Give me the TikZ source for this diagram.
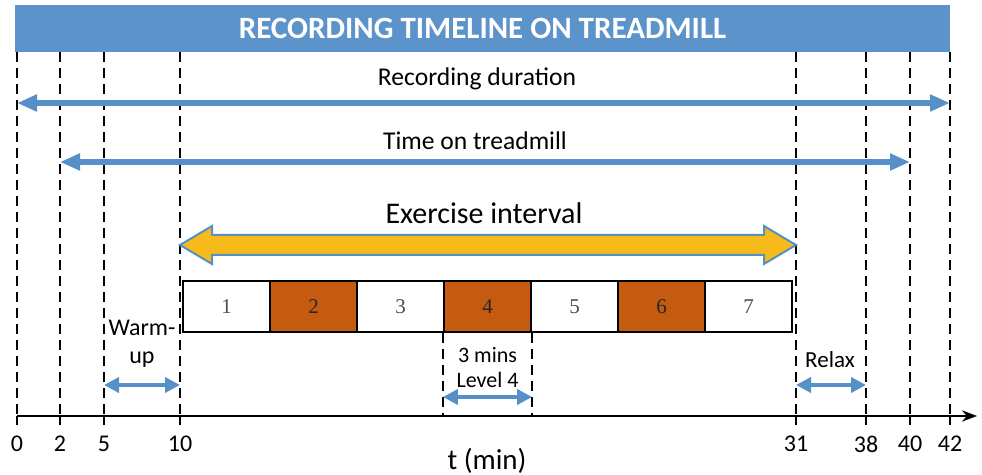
\documentclass[tikz,border=0pt]{standalone}
\usepackage{fontspec}
\setmainfont{Carlito}
\newfontfamily\cellfont{Liberation Serif}
\usetikzlibrary{arrows.meta,positioning,calc}

\definecolor{titleblue}{RGB}{91,147,202}
\definecolor{arrowblue}{RGB}{86,144,201}
\definecolor{exyellow}{RGB}{246,187,26}
\definecolor{cellorange}{RGB}{197,90,17}

\begin{document}
\begin{tikzpicture}[
    x=0.5pt, y=-0.5pt,
    node font=\fontsize{12}{14}\selectfont,
    >=Stealth,
    time line/.style={line width=1pt, dash pattern=on 5pt off 3pt},
    blue arrow/.style={draw=arrowblue, line width=2.8pt,
        {Triangle[length=10pt,width=8pt]}-{Triangle[length=10pt,width=8pt]}},
    small arrow/.style={draw=arrowblue, line width=2.4pt,
        {Triangle[length=7.5pt,width=7.5pt]}-{Triangle[length=7.5pt,width=7.5pt]}},
    ex arrow/.style={draw=arrowblue, fill=exyellow, line width=1pt, line join=miter},
    cell/.style={draw, line width=1.1pt, minimum width=43.5pt, minimum height=25.5pt,
        inner sep=0pt, font=\cellfont\fontsize{10.5}{12}\selectfont},
]
\useasboundingbox (0,0) rectangle (982,475);

% === TITLE ===
\node[fill=titleblue, minimum width=467.5pt, minimum height=23.5pt, inner sep=0pt,
      text=white, font=\bfseries\fontsize{15.5}{17}\selectfont]
    (title) at (482.5,28.5) {RECORDING TIMELINE ON TREADMILL};

% === TIME AXIS ===
\coordinate (tend) at (977,416);
\foreach \t/\x in {0/17, 2/60, 5/104, 10/180, 31/796, 38/866, 40/910, 42/950} {
    \coordinate (t\t) at (\x,416);
    \draw[time line] (t\t |- title.south) -- (t\t);
    \draw[line width=1pt] (t\t) -- ++(0,9);
    \node (l\t) at (\x,444) {\t};
}
\draw[->, line width=1pt] (t0) -- (tend);
\node[font=\fontsize{14.5}{16}\selectfont] (tlabel) at (487,461) {t (min)};

% Rows of the arrows
\coordinate (rowrec) at (0,103);
\coordinate (rowtread) at (0,162);
\coordinate (rowex) at (0,245);

% === RECORDING / TREADMILL ===
\node[font=\fontsize{12.8}{15}\selectfont] (rec) at (477,79) {Recording duration};
\draw[blue arrow] (t0 |- rowrec) -- (t42 |- rowrec);

\node[font=\fontsize{12.8}{15}\selectfont] (tread) at (475,141) {Time on treadmill};
\draw[blue arrow] (t2 |- rowtread) -- (t40 |- rowtread);

% === EXERCISE INTERVAL ===
\node[font=\fontsize{15}{17}\selectfont] (ex) at (484,213) {Exercise interval};
\draw[ex arrow] (t10 |- rowex) -- ++(32,-19) -- ++(0,9)
    -- ($(t31 |- rowex)+(-32,-10)$) -- ++(0,-9) -- (t31 |- rowex)
    -- ++(-32,19) -- ++(0,-9)
    -- ($(t10 |- rowex)+(32,10)$) -- ++(0,9) -- cycle;

% Stages
\foreach \i in {1,...,7} {
    \ifodd\i
        \node[cell, fill=white, text=black!70] (c\i) at ({183+87*(\i-0.5)},306.5) {\i};
    \else
        \node[cell, fill=cellorange, text=black!85] (c\i) at ({183+87*(\i-0.5)},306.5) {\i};
    \fi
}

% === 3 MINS LEVEL 4 ===
\draw[time line] (c4.south west) -- (c4.south west |- t0);
\draw[time line] (c4.south east) -- (c4.south east |- t0);
\node[font=\fontsize{11}{12.5}\selectfont, align=center] (lvl) at (c4.south |- 0,368) {3 mins\\Level 4};
\draw[small arrow] (c4.south west |- 0,397) -- (c4.south east |- 0,397);

% === WARM-UP / RELAX ===
\node[font=\fontsize{12}{14}\selectfont, align=center] (warm) at (142,344) {Warm-\\up};
\draw[small arrow] (t5 |- 0,385) -- (t10 |- 0,385);

\node[font=\fontsize{11.5}{13}\selectfont] (relax) at (830,360) {Relax};
\draw[small arrow] (t31 |- 0,385) -- (t38 |- 0,385);

\end{tikzpicture}
\end{document}
